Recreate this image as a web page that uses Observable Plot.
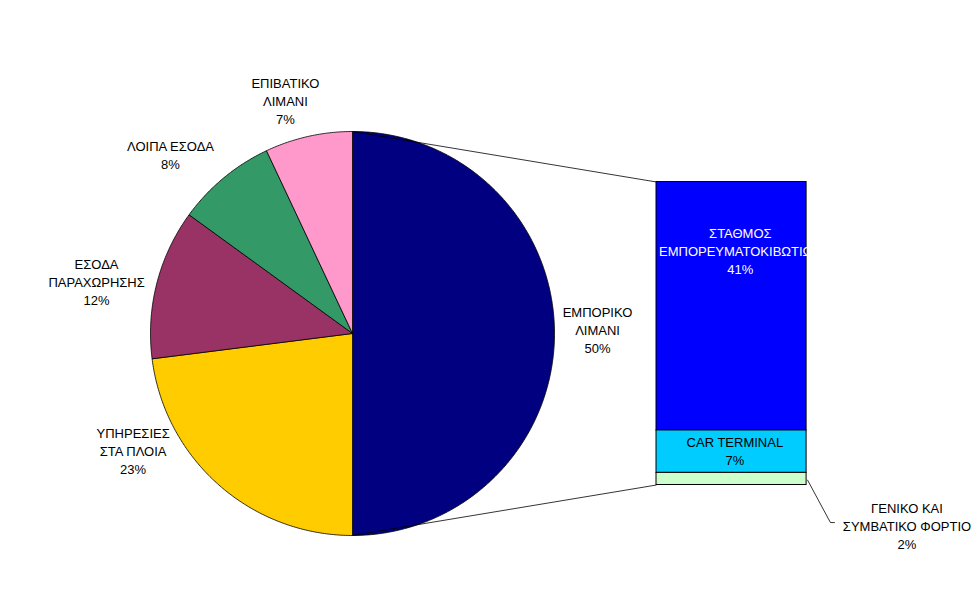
<!DOCTYPE html>
<html>
<head>
<meta charset="utf-8">
<script src="https://cdn.jsdelivr.net/npm/d3@7"></script>
<script src="https://cdn.jsdelivr.net/npm/@observablehq/plot@0.6"></script>
<style>
  html, body { margin: 0; padding: 0; background: #ffffff; }
  #chart svg { display: block; }
</style>
</head>
<body>
<div id="chart"></div>
<script>
// ---- DATA ----
const pieCategories = ["ΕΜΠΟΡΙΚΟ\nΛΙΜΑΝΙ", "ΥΠΗΡΕΣΙΕΣ\nΣΤΑ ΠΛΟΙΑ", "ΕΣΟΔΑ\nΠΑΡΑΧΩΡΗΣΗΣ", "ΛΟΙΠΑ ΕΣΟΔΑ", "ΕΠΙΒΑΤΙΚΟ\nΛΙΜΑΝΙ"];
const pieValues = [50, 23, 12, 8, 7];
const barCategories = ["ΣΤΑΘΜΟΣ\nΕΜΠΟΡΕΥΜΑΤΟΚΙΒΩΤΙΩΝ", "CAR TERMINAL", "ΓΕΝΙΚΟ ΚΑΙ\nΣΥΜΒΑΤΙΚΟ ΦΟΡΤΙΟ"];
const barValues = [41, 7, 2];

// ---- STYLE / LAYOUT ----
const pieColors = ["#000080", "#FFCC00", "#993366", "#339966", "#FF99CC"];
const barColors = ["#0000FF", "#00CCFF", "#CCFFCC"];
const barTextColors = ["#ffffff", "#000000", "#000000"];
const W = 973, H = 598;
const CX = 352, CY = 333, R = 202;           // pie centre / radius in pixels (1 unit = R px)
const BAR_X1 = 1.505, BAR_X2 = 2.248;        // bar horizontal extent in pie units
const BAR_H = 1.5;                           // bar height in pie units (centred on pie centre)
// label anchor positions in pie units
const pieLabelPos = [[1.213, 0.022], [-1.086, -0.579], [-1.267, 0.260], [-0.901, 0.889], [-0.332, 1.156]];
const barLabelPos = [[1.920, 0.411], [1.893, -0.579], [2.745, -0.948]];

// ---- GEOMETRY ----
const total = d3.sum(pieValues);
let acc = 0;
const slices = pieValues.map((v, i) => {
  const a0 = acc / total * 2 * Math.PI; acc += v;
  const a1 = acc / total * 2 * Math.PI;
  return {name: pieCategories[i], value: v, a0, a1, color: pieColors[i]};
});
const wedgePts = slices.flatMap(s => {
  const n = Math.max(2, Math.ceil((s.a1 - s.a0) / (Math.PI / 360)));
  const pts = [{id: s.name, x: 0, y: 0, fill: s.color}];
  for (let k = 0; k <= n; k++) {
    const a = s.a0 + (s.a1 - s.a0) * k / n;
    pts.push({id: s.name, x: Math.sin(a), y: Math.cos(a), fill: s.color});
  }
  pts.push({id: s.name, x: 0, y: 0, fill: s.color});
  return pts;
});

const splitTotal = d3.sum(barValues);
const k = BAR_H / splitTotal;
const barTop = BAR_H / 2;
let c = 0;
const barSegs = barValues.map((v, i) => {
  const y1 = barTop - c * k; c += v;
  const y2 = barTop - c * k;
  return {name: barCategories[i], value: v, x1: BAR_X1, x2: BAR_X2, y1, y2, fill: barColors[i]};
});
const barBottom = barTop - splitTotal * k;

const s0 = slices[0];
const connectors = [
  {x1: Math.sin(s0.a0), y1: Math.cos(s0.a0), x2: BAR_X1, y2: barTop},
  {x1: Math.sin(s0.a1), y1: Math.cos(s0.a1), x2: BAR_X1, y2: barBottom}
];

const last = barSegs[barSegs.length - 1];
const lp = barLabelPos[barLabelPos.length - 1];
const leader = [
  {x: BAR_X2 + 0.005, y: (last.y1 + last.y2) / 2 - 0.006},
  {x: BAR_X2 + 0.118, y: lp[1] + 0.012},
  {x: BAR_X2 + 0.138, y: lp[1] + 0.012}
];

const pieText = slices.map((s, i) => ({x: pieLabelPos[i][0], y: pieLabelPos[i][1], text: s.name + "\n" + s.value + "%"}));
const barText = barSegs.map((s, i) => ({x: barLabelPos[i][0], y: barLabelPos[i][1], text: s.name + "\n" + s.value + "%", fill: barTextColors[i]}));

const chart = Plot.plot({
  width: W, height: H, margin: 0,
  x: {domain: [-CX / R, (W - CX) / R], axis: null},
  y: {domain: [-(H - CY) / R, CY / R], axis: null},
  color: {type: "identity"},
  style: {fontFamily: "'Liberation Sans', Arial, sans-serif", background: "#ffffff"},
  marks: [
    Plot.line(wedgePts, {x: "x", y: "y", z: "id", fill: "fill", stroke: "#000000", strokeWidth: 0.8, curve: "linear"}),
    Plot.rect(barSegs, {x1: "x1", x2: "x2", y1: "y1", y2: "y2", fill: "fill", stroke: "#000000", strokeWidth: 1}),
    Plot.link(connectors, {x1: "x1", y1: "y1", x2: "x2", y2: "y2", stroke: "#000000", strokeWidth: 0.8}),
    Plot.line(leader, {x: "x", y: "y", stroke: "#000000", strokeWidth: 0.8}),
    Plot.text(pieText, {x: "x", y: "y", text: "text", fontSize: 13, lineHeight: 1.4, fill: "#000000"}),
    Plot.text(barText, {x: "x", y: "y", text: "text", fontSize: 13, lineHeight: 1.4, fill: "fill"})
  ]
});
document.getElementById("chart").appendChild(chart);
</script>
</body>
</html>
